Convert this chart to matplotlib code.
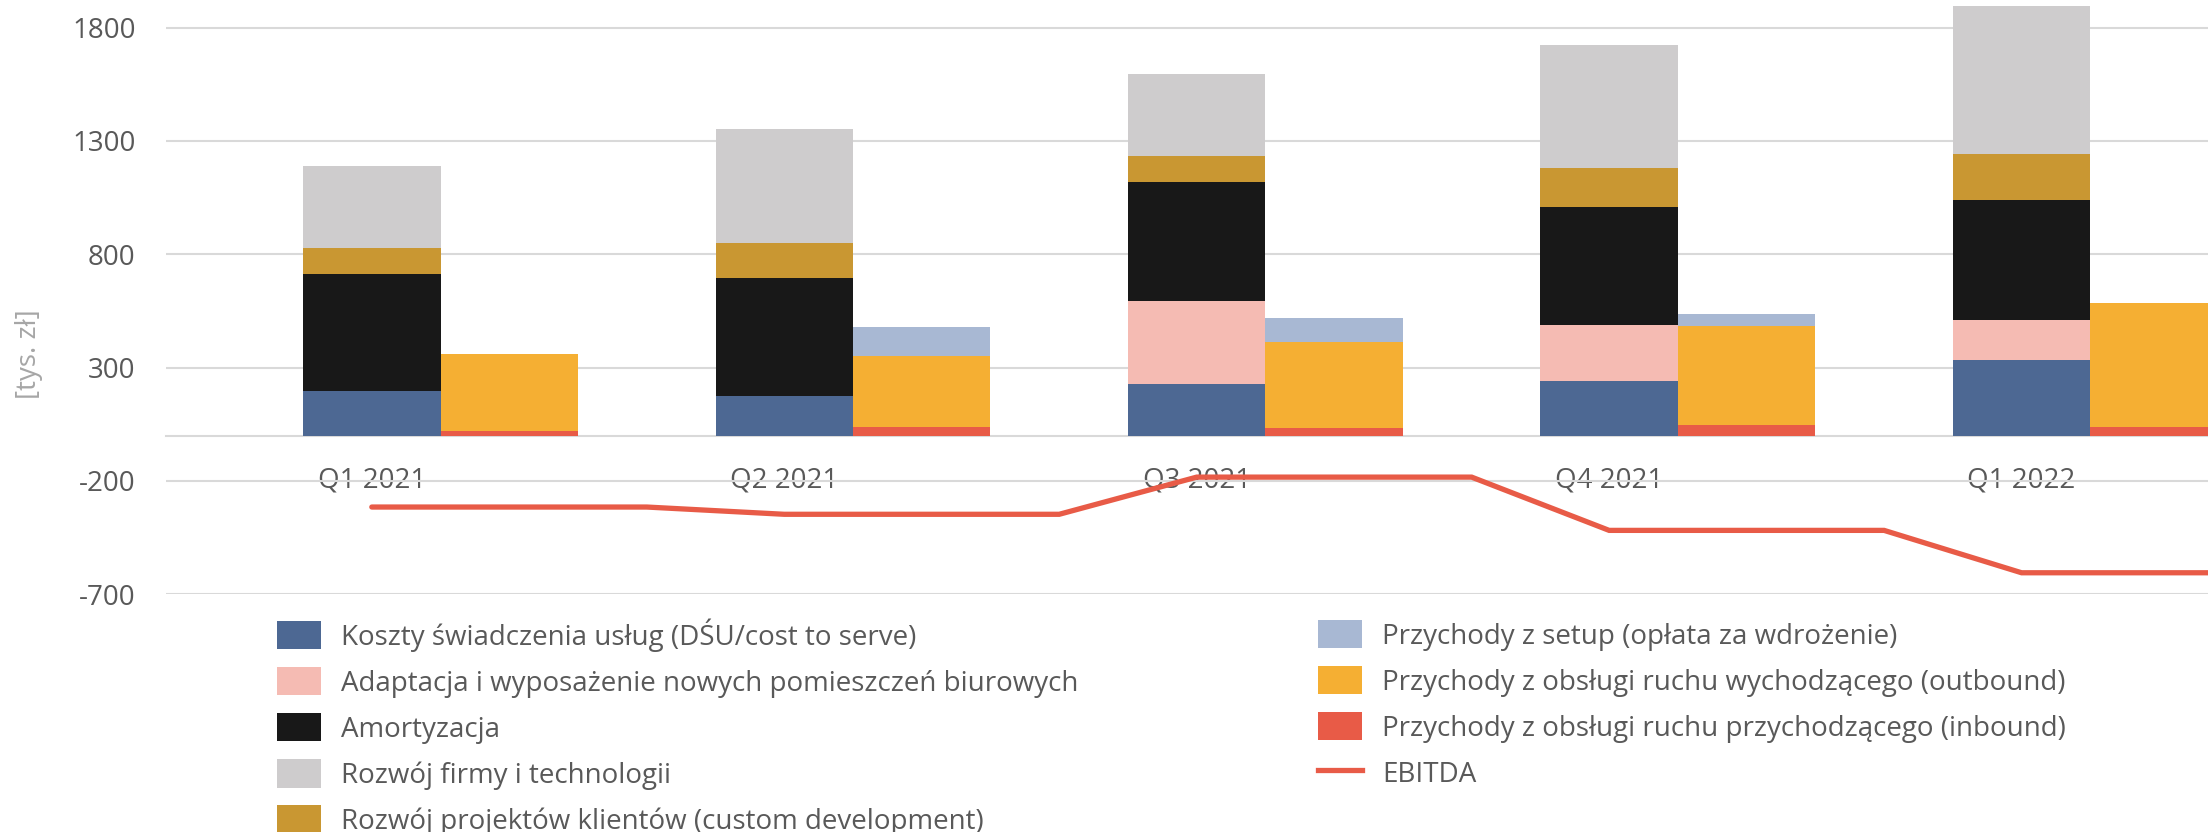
import matplotlib
matplotlib.use('Agg')
import matplotlib.pyplot as plt
from matplotlib.patches import Patch
from matplotlib.lines import Line2D
import numpy as np

plt.rcParams['font.family'] = ['Open Sans', 'DejaVu Sans']
plt.rcParams['axes.unicode_minus'] = False

# ---- data (tys. zł) ----
quarters = ['Q1 2021', 'Q2 2021', 'Q3 2021', 'Q4 2021', 'Q1 2022']
# cost bar (bottom -> top)
cost_to_serve = [195, 174, 230, 243, 333]
office_fitout = [0, 0, 366, 244, 179]
amortization = [518, 522, 524, 522, 527]
custom_dev = [114, 154, 113, 170, 203]
tech_dev = [363, 501, 362, 544, 653]
# revenue bar (bottom -> top)
rev_inbound = [20, 38, 33, 47, 38]
rev_outbound = [338, 315, 382, 437, 545]
rev_setup = [0, 125, 106, 52, 0]
# EBITDA
ebitda = [-315, -347, -183, -418, -605]

labels_cost = ['Koszty świadczenia usług (DŚU/cost to serve)',
               'Adaptacja i wyposażenie nowych pomieszczeń biurowych',
               'Amortyzacja',
               'Rozwój firmy i technologii',
               'Rozwój projektów klientów (custom development)']
labels_rev = ['Przychody z setup (opłata za wdrożenie)',
              'Przychody z obsługi ruchu wychodzącego (outbound)',
              'Przychody z obsługi ruchu przychodzącego (inbound)',
              'EBITDA']

c_blue = '#4D6893'
c_pink = '#F5BBB3'
c_black = '#181818'
c_gray = '#CECCCD'
c_gold = '#C99732'
c_setup = '#A8B8D3'
c_orange = '#F5AF33'
c_red = '#E85B47'
txt = '#595959'
grid = '#D9D9D9'

fig = plt.figure(figsize=(22.08, 8.32), dpi=100)
ax = fig.add_axes([166/2208, 1-594.3/832, 1-166/2208, 594.3/832])

n = len(quarters)
xc = np.arange(n) * 3.0
xr = xc + 1.0
w = 1.0

bottom = np.zeros(n)
for vals, col in [(cost_to_serve, c_blue), (office_fitout, c_pink),
                  (amortization, c_black), (custom_dev, c_gold), (tech_dev, c_gray)]:
    ax.bar(xc, vals, w, bottom=bottom, color=col, edgecolor='none', zorder=2)
    bottom += np.array(vals)

bottom = np.zeros(n)
for vals, col in [(rev_inbound, c_red), (rev_outbound, c_orange), (rev_setup, c_setup)]:
    ax.bar(xr, vals, w, bottom=bottom, color=col, edgecolor='none', zorder=2)
    bottom += np.array(vals)

xl = np.arange(n * 3)
ax.plot(xl, np.repeat(ebitda, 3), color=c_red, lw=3.8, solid_capstyle='round',
        solid_joinstyle='miter', zorder=3)

ax.set_xlim(-1.497, 13.356)
ax.set_ylim(-700, 1922)
ax.set_yticks([-700, -200, 300, 800, 1300, 1800])
ax.yaxis.grid(True, color=grid, lw=1.5)
ax.set_axisbelow(True)
ax.tick_params(axis='y', length=0, pad=22, labelsize=20, labelcolor=txt)

ax.set_xticks(xc)
ax.set_xticklabels(quarters)
ax.tick_params(axis='x', length=0, pad=22, labelsize=20, labelcolor=txt)
ax.spines['bottom'].set_position(('data', 0))
ax.spines['bottom'].set_color(grid)
ax.spines['bottom'].set_linewidth(1.5)
ax.spines['bottom'].set_zorder(1)
for s in ['left', 'right', 'top']:
    ax.spines[s].set_visible(False)

fig.text(29/2208, 1-354/832, '[tys. zł]', rotation=90, ha='center', va='center',
         fontsize=20, color='#A6A6A6')

h_cost = [Patch(facecolor=c, edgecolor='none') for c in [c_blue, c_pink, c_black, c_gray, c_gold]]
h_rev = [Patch(facecolor=c_setup, edgecolor='none'), Patch(facecolor=c_orange, edgecolor='none'),
         Patch(facecolor=c_red, edgecolor='none'), Line2D([], [], color=c_red, lw=3.8)]

common = dict(loc='upper left', frameon=False, fontsize=20, labelcolor=txt,
              handlelength=1.58, handleheight=1.19, handletextpad=0.74,
              labelspacing=0.56, borderpad=0, borderaxespad=0)
fig.legend(h_cost, labels_cost, bbox_to_anchor=(277/2208, 1-618/832), **common)
fig.legend(h_rev, labels_rev, bbox_to_anchor=(1317.7/2208, 1-620/832), **common)

fig.savefig('out.png', dpi=100)
